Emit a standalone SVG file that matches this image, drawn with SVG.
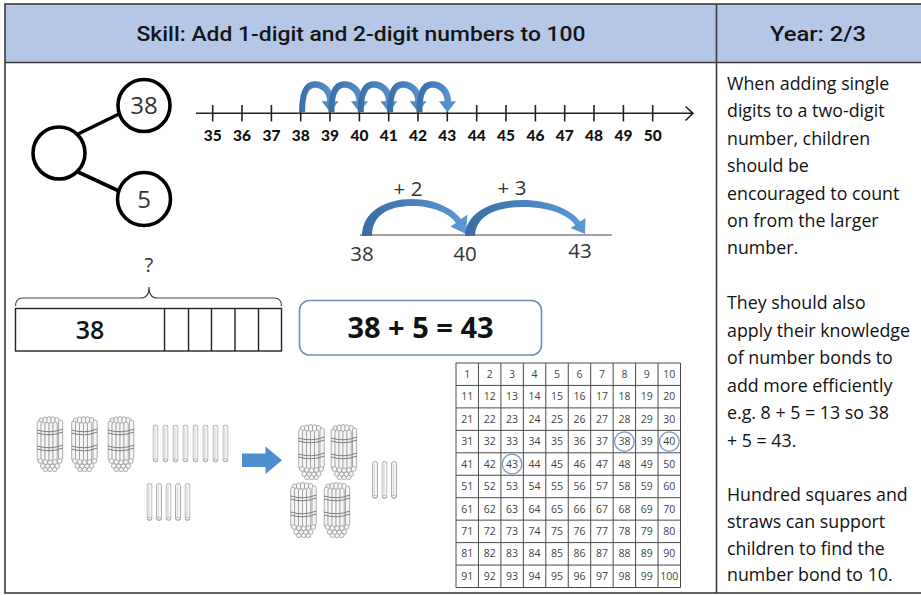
<svg xmlns="http://www.w3.org/2000/svg" xmlns:xlink="http://www.w3.org/1999/xlink" width="921" height="595" viewBox="0 0 921 595">
  <defs>
    <style>
      .frame { fill: none; stroke: #3a3a3a; stroke-width: 1.6; }
      .head { font-family: Roboto, "Liberation Sans", sans-serif; font-weight: 500; font-size: 21px; fill: #151515; text-anchor: middle; }
      .ring { fill: #fff; stroke: #000; stroke-width: 3.6; }
      .link { stroke: #000; stroke-width: 3.6; fill: none; }
      .pw { font-family: "Open Sans", "Noto Sans", sans-serif; font-size: 24px; fill: #333; text-anchor: middle; }
      .axis { stroke: #222; stroke-width: 1.6; fill: none; }
      .nl { font-family: Lato, "Liberation Sans", sans-serif; font-weight: 900; font-size: 15.5px; fill: #111; text-anchor: middle; }
      .jl { font-family: "Open Sans", "Noto Sans", sans-serif; font-size: 20.5px; fill: #333; text-anchor: middle; }
      .thin { stroke: #444; stroke-width: 1.2; fill: none; }
      .bar { fill: #fff; stroke: #222; stroke-width: 1.4; }
      .eqbox { fill: #fff; stroke: #6d8fbb; stroke-width: 1.6; }
      .eq { font-family: "Open Sans", "Noto Sans", sans-serif; font-weight: 700; font-size: 29px; fill: #111; text-anchor: middle; }
      .grid { stroke: #4a4a4a; stroke-width: 1; fill: none; }
      .hs { font-family: "Open Sans", "Noto Sans", sans-serif; font-size: 10.5px; fill: #444; text-anchor: middle; }
      .mark { fill: none; stroke: #7f9cc2; stroke-width: 1.3; }
      .note { font-family: "Open Sans", "Noto Sans", sans-serif; font-size: 17.8px; fill: #111; }
      .straw { fill: #f6f6f6; stroke: #8c8c8c; stroke-width: 0.7; }
      .strawline { stroke: #b5b5b5; stroke-width: 0.5; fill: none; }
      .band { fill: none; stroke: #7a7a7a; stroke-width: 1; }
    </style>
    <linearGradient id="jumpFill" x1="0" y1="0" x2="1" y2="0">
      <stop offset="0" stop-color="#3a6ca3"/>
      <stop offset="1" stop-color="#5b9ad6"/>
    </linearGradient>
    <!-- single hop on the number line, origin at the start tick on the axis -->
    <path id="hop" fill="url(#jumpFill)" d="M-1.5,-1 C-1.5,-23 4,-32 14.5,-32 C24,-32 33,-25 33,-12 L38,-12 L29.5,-1 L21,-12 L26.5,-12 C26.5,-20 21,-25.5 14.5,-25.5 C8,-25.5 4.5,-19 4.5,-1 Z"/>
    <!-- a single loose straw -->
    <symbol id="straw" viewBox="0 0 6 38">
      <rect class="straw" x="0.5" y="0.5" width="5" height="37" rx="2.5"/>
      <path class="strawline" d="M2.4,3 V35"/>
      <ellipse cx="3" cy="35.5" rx="2.2" ry="1.2" fill="none" stroke="#9a9a9a" stroke-width="0.5"/>
    </symbol>
    <!-- a bundle of ten straws held by two bands -->
    <symbol id="bundle" viewBox="0 0 28 56">
      <g>
        <rect class="straw" x="3" y="2" width="4.2" height="42" rx="2"/>
        <rect class="straw" x="7" y="1" width="4.2" height="43" rx="2"/>
        <rect class="straw" x="11" y="0.6" width="4.2" height="44" rx="2"/>
        <rect class="straw" x="15" y="0.8" width="4.2" height="44" rx="2"/>
        <rect class="straw" x="19" y="1.5" width="4.2" height="43" rx="2"/>
        <rect class="straw" x="1.2" y="5" width="4.2" height="40" rx="2"/>
        <rect class="straw" x="22.5" y="4" width="4.2" height="40" rx="2"/>
        <rect class="straw" x="5" y="6" width="4.2" height="39" rx="2"/>
        <rect class="straw" x="9" y="6.5" width="4.2" height="39" rx="2"/>
        <rect class="straw" x="13" y="6.5" width="4.2" height="39" rx="2"/>
        <rect class="straw" x="17" y="6" width="4.2" height="39" rx="2"/>
        <path class="band" d="M1,14 Q14,18 27,13"/>
        <path class="band" d="M1,17 Q14,21 27,16"/>
        <path class="band" d="M1,30 Q14,34 27,29"/>
        <path class="band" d="M1,33 Q14,37 27,32"/>
        <circle class="straw" cx="4.5" cy="45" r="2.4"/>
        <circle class="straw" cx="9.3" cy="46" r="2.4"/>
        <circle class="straw" cx="14.1" cy="46.3" r="2.4"/>
        <circle class="straw" cx="18.9" cy="46" r="2.4"/>
        <circle class="straw" cx="23.7" cy="45" r="2.4"/>
        <circle class="straw" cx="6.8" cy="50" r="2.4"/>
        <circle class="straw" cx="11.6" cy="50.5" r="2.4"/>
        <circle class="straw" cx="16.4" cy="50.5" r="2.4"/>
        <circle class="straw" cx="21.2" cy="50" r="2.4"/>
        <circle class="straw" cx="9.4" cy="53.4" r="2.2"/>
        <circle class="straw" cx="14.1" cy="53.6" r="2.2"/>
        <circle class="straw" cx="18.8" cy="53.4" r="2.2"/>
      </g>
    </symbol>
  </defs>

  <rect width="921" height="595" fill="#fff"/>

  <!-- table frame and header row -->
  <g id="header">
    <rect x="5" y="4" width="920" height="58.5" fill="#b4c7e7"/>
    <rect class="frame" x="5" y="4" width="920" height="589"/>
    <line class="frame" x1="5" y1="62.5" x2="921" y2="62.5"/>
    <line class="frame" x1="716.5" y1="4" x2="716.5" y2="593"/>
    <text class="head" x="361" y="41" textLength="449" lengthAdjust="spacingAndGlyphs">Skill: Add 1-digit and 2-digit numbers to 100</text>
    <text class="head" x="818" y="41" textLength="96" lengthAdjust="spacingAndGlyphs">Year: 2/3</text>
  </g>

  <!-- part-whole model -->
  <g id="connectors">
    <line class="link" x1="78" y1="134" x2="119" y2="114"/>
    <line class="link" x1="78" y1="172" x2="119" y2="191"/>
  </g>
  <g id="whole">
    <circle class="ring" cx="59" cy="153" r="26"/>
  </g>
  <g id="part-38">
    <circle class="ring" cx="144" cy="105.5" r="26"/>
    <text class="pw" x="144" y="114">38</text>
  </g>
  <g id="part-5">
    <circle class="ring" cx="144" cy="199" r="26.5"/>
    <text class="pw" x="144" y="207.5">5</text>
  </g>

  <!-- number line 35 to 50 with five hops from 38 -->
  <g id="number-line">
    <path class="axis" d="M196,113.3 H692 M685.5,106.5 L693,113.3 L685.5,120.5"/>
    <path class="axis" d="M212.7,105 V121.5 M242,105 V121.5 M271.4,105 V121.5 M300.7,105 V121.5 M330,105 V121.5 M359.4,105 V121.5 M388.7,105 V121.5 M418,105 V121.5 M447.3,105 V121.5 M476.7,105 V121.5 M506,105 V121.5 M535.4,105 V121.5 M564.7,105 V121.5 M594,105 V121.5 M623.4,105 V121.5 M652.7,105 V121.5"/>
    <g class="nl">
      <text x="212.7" y="141">35</text>
      <text x="242" y="141">36</text>
      <text x="271.4" y="141">37</text>
      <text x="300.7" y="141">38</text>
      <text x="330" y="141">39</text>
      <text x="359.4" y="141">40</text>
      <text x="388.7" y="141">41</text>
      <text x="418" y="141">42</text>
      <text x="447.3" y="141">43</text>
      <text x="476.7" y="141">44</text>
      <text x="506" y="141">45</text>
      <text x="535.4" y="141">46</text>
      <text x="564.7" y="141">47</text>
      <text x="594" y="141">48</text>
      <text x="623.4" y="141">49</text>
      <text x="652.7" y="141">50</text>
    </g>
    <use href="#hop" transform="translate(300.7,113.3)"/>
    <use href="#hop" transform="translate(330,113.3)"/>
    <use href="#hop" transform="translate(359.4,113.3)"/>
    <use href="#hop" transform="translate(388.7,113.3)"/>
    <use href="#hop" transform="translate(418,113.3)"/>
  </g>

  <!-- empty number line: 38 +2 to 40, +3 to 43 -->
  <g id="bridge-line">
    <line class="thin" x1="360" y1="235" x2="612" y2="235"/>
    <path fill="url(#jumpFill)" d="M362,236 C362,212 385,199 412,199 C437,199 454,210 461,219 L467.5,214.5 L466,234 L450.5,226.5 L456,223 C450,214 434,206 412,206 C390,206 372,214 372,236 Z"/>
    <path fill="url(#jumpFill)" d="M465,236 C466,212 492,200 522,200 C550,200 572,210 580,221.5 L585.5,218 L585,234 L570.5,228 L575.3,224.9 C567,214 548,207 522,207 C497,207 476,215 475,236 Z"/>
    <text class="jl" x="408" y="196">+ 2</text>
    <text class="jl" x="512" y="195">+ 3</text>
    <text class="jl" x="362" y="261">38</text>
    <text class="jl" x="465" y="261">40</text>
    <text class="jl" x="580" y="258">43</text>
  </g>

  <!-- bar model -->
  <g id="bar-model">
    <text class="jl" x="149" y="272">?</text>
    <path class="thin" d="M15.5,306 Q15.5,298 23,298 H141 Q149,298 149,287 Q149,298 157,298 H274 Q281.5,298 281.5,306"/>
    <rect class="bar" x="15.5" y="308.5" width="266" height="42.5"/>
    <path class="bar" d="M164.5,308.5 V351 M188.5,308.5 V351 M211.5,308.5 V351 M235,308.5 V351 M258.5,308.5 V351"/>
    <text x="90" y="339" style="font-family:'Open Sans','Noto Sans',sans-serif;font-weight:600;font-size:25px;fill:#111;text-anchor:middle">38</text>
  </g>

  <!-- number sentence -->
  <g id="equation">
    <rect class="eqbox" x="299.5" y="300.5" width="242" height="54.5" rx="10"/>
    <text class="eq" x="420.5" y="338">38 + 5 = 43</text>
  </g>

  <!-- straws: 38 becomes 43 -->
  <g id="straws">
    <use href="#bundle" x="36" y="416" width="28" height="56"/>
    <use href="#bundle" x="70.5" y="416" width="28" height="56"/>
    <use href="#bundle" x="107" y="416" width="28" height="56"/>
    <use href="#straw" x="152.5" y="424.5" width="6" height="38"/>
    <use href="#straw" x="162.5" y="424.5" width="6" height="38"/>
    <use href="#straw" x="172.5" y="424.5" width="6" height="38"/>
    <use href="#straw" x="182.5" y="424.5" width="6" height="38"/>
    <use href="#straw" x="192.5" y="424.5" width="6" height="38"/>
    <use href="#straw" x="202.5" y="424.5" width="6" height="38"/>
    <use href="#straw" x="212.5" y="424.5" width="6" height="38"/>
    <use href="#straw" x="222.5" y="424.5" width="6" height="38"/>
    <use href="#straw" x="146.5" y="483" width="6" height="38"/>
    <use href="#straw" x="156" y="483" width="6" height="38"/>
    <use href="#straw" x="165.5" y="483" width="6" height="38"/>
    <use href="#straw" x="175" y="483" width="6" height="38"/>
    <use href="#straw" x="184.5" y="483" width="6" height="38"/>
    <polygon points="242,453.5 265.5,453.5 265.5,446.5 282,460.3 265.5,474 265.5,467 242,467" fill="#4f8fd0"/>
    <use href="#bundle" x="297.5" y="424" width="28" height="56"/>
    <use href="#bundle" x="330" y="424" width="28" height="56"/>
    <use href="#bundle" x="289.5" y="482" width="28" height="56"/>
    <use href="#bundle" x="323" y="482" width="28" height="56"/>
    <use href="#straw" x="372" y="460" width="6" height="40"/>
    <use href="#straw" x="381.5" y="460" width="6" height="40"/>
    <use href="#straw" x="391" y="460" width="6" height="40"/>
  </g>

  <!-- hundred square -->
  <g id="hundred-square">
    <rect x="456" y="363" width="224.5" height="224.5" fill="#fff"/>
    <path class="grid" d="M456,363 V587.5 M478.45,363 V587.5 M500.9,363 V587.5 M523.35,363 V587.5 M545.8,363 V587.5 M568.25,363 V587.5 M590.7,363 V587.5 M613.15,363 V587.5 M635.6,363 V587.5 M658.05,363 V587.5 M680.5,363 V587.5 M456,363 H680.5 M456,385.45 H680.5 M456,407.9 H680.5 M456,430.35 H680.5 M456,452.8 H680.5 M456,475.25 H680.5 M456,497.7 H680.5 M456,520.15 H680.5 M456,542.6 H680.5 M456,565.05 H680.5 M456,587.5 H680.5"/>
    <g class="hs">
      <text y="377.8"><tspan x="467.2">1</tspan><tspan x="489.7">2</tspan><tspan x="512.1">3</tspan><tspan x="534.6">4</tspan><tspan x="557">5</tspan><tspan x="579.5">6</tspan><tspan x="601.9">7</tspan><tspan x="624.4">8</tspan><tspan x="646.8">9</tspan><tspan x="669.3">10</tspan></text>
      <text y="400.3"><tspan x="467.2">11</tspan><tspan x="489.7">12</tspan><tspan x="512.1">13</tspan><tspan x="534.6">14</tspan><tspan x="557">15</tspan><tspan x="579.5">16</tspan><tspan x="601.9">17</tspan><tspan x="624.4">18</tspan><tspan x="646.8">19</tspan><tspan x="669.3">20</tspan></text>
      <text y="422.7"><tspan x="467.2">21</tspan><tspan x="489.7">22</tspan><tspan x="512.1">23</tspan><tspan x="534.6">24</tspan><tspan x="557">25</tspan><tspan x="579.5">26</tspan><tspan x="601.9">27</tspan><tspan x="624.4">28</tspan><tspan x="646.8">29</tspan><tspan x="669.3">30</tspan></text>
      <text y="445.2"><tspan x="467.2">31</tspan><tspan x="489.7">32</tspan><tspan x="512.1">33</tspan><tspan x="534.6">34</tspan><tspan x="557">35</tspan><tspan x="579.5">36</tspan><tspan x="601.9">37</tspan><tspan x="624.4">38</tspan><tspan x="646.8">39</tspan><tspan x="669.3">40</tspan></text>
      <text y="467.6"><tspan x="467.2">41</tspan><tspan x="489.7">42</tspan><tspan x="512.1">43</tspan><tspan x="534.6">44</tspan><tspan x="557">45</tspan><tspan x="579.5">46</tspan><tspan x="601.9">47</tspan><tspan x="624.4">48</tspan><tspan x="646.8">49</tspan><tspan x="669.3">50</tspan></text>
      <text y="490.1"><tspan x="467.2">51</tspan><tspan x="489.7">52</tspan><tspan x="512.1">53</tspan><tspan x="534.6">54</tspan><tspan x="557">55</tspan><tspan x="579.5">56</tspan><tspan x="601.9">57</tspan><tspan x="624.4">58</tspan><tspan x="646.8">59</tspan><tspan x="669.3">60</tspan></text>
      <text y="512.5"><tspan x="467.2">61</tspan><tspan x="489.7">62</tspan><tspan x="512.1">63</tspan><tspan x="534.6">64</tspan><tspan x="557">65</tspan><tspan x="579.5">66</tspan><tspan x="601.9">67</tspan><tspan x="624.4">68</tspan><tspan x="646.8">69</tspan><tspan x="669.3">70</tspan></text>
      <text y="535"><tspan x="467.2">71</tspan><tspan x="489.7">72</tspan><tspan x="512.1">73</tspan><tspan x="534.6">74</tspan><tspan x="557">75</tspan><tspan x="579.5">76</tspan><tspan x="601.9">77</tspan><tspan x="624.4">78</tspan><tspan x="646.8">79</tspan><tspan x="669.3">80</tspan></text>
      <text y="557.4"><tspan x="467.2">81</tspan><tspan x="489.7">82</tspan><tspan x="512.1">83</tspan><tspan x="534.6">84</tspan><tspan x="557">85</tspan><tspan x="579.5">86</tspan><tspan x="601.9">87</tspan><tspan x="624.4">88</tspan><tspan x="646.8">89</tspan><tspan x="669.3">90</tspan></text>
      <text y="579.9"><tspan x="467.2">91</tspan><tspan x="489.7">92</tspan><tspan x="512.1">93</tspan><tspan x="534.6">94</tspan><tspan x="557">95</tspan><tspan x="579.5">96</tspan><tspan x="601.9">97</tspan><tspan x="624.4">98</tspan><tspan x="646.8">99</tspan><tspan x="669.3">100</tspan></text>
    </g>
    <circle class="mark" cx="624.4" cy="441.6" r="9.8"/>
    <circle class="mark" cx="669.3" cy="441.6" r="9.8"/>
    <circle class="mark" cx="512.1" cy="464" r="9.8"/>
  </g>

  <!-- guidance notes -->
  <g id="notes" class="note">
    <text x="727" y="90">When adding single</text>
    <text x="727" y="117.4">digits to a two-digit</text>
    <text x="727" y="144.8">number, children</text>
    <text x="727" y="172.2">should be</text>
    <text x="727" y="199.6">encouraged to count</text>
    <text x="727" y="227">on from the larger</text>
    <text x="727" y="254.4">number.</text>
    <text x="727" y="309">They should also</text>
    <text x="727" y="336.6">apply their knowledge</text>
    <text x="727" y="364">of number bonds to</text>
    <text x="727" y="391.5">add more efficiently</text>
    <text x="727" y="419">e.g. 8 + 5 = 13 so 38</text>
    <text x="727" y="446.5">+ 5 = 43.</text>
    <text x="727" y="500.5">Hundred squares and</text>
    <text x="727" y="527.5">straws can support</text>
    <text x="727" y="554.5">children to find the</text>
    <text x="727" y="581">number bond to 10.</text>
  </g>
</svg>
